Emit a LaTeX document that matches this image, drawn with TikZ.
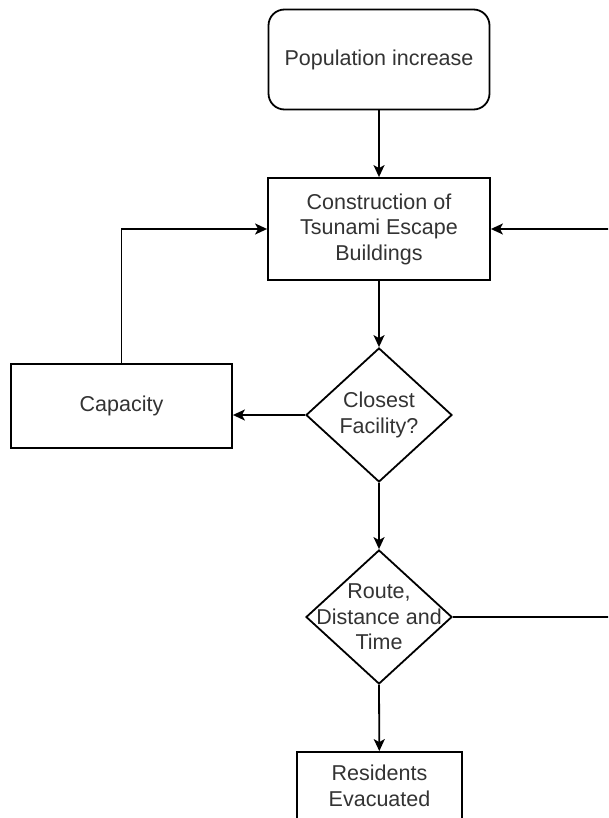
\documentclass[tikz,border=0pt]{standalone}
\usepackage{fontspec}
\setmainfont{Liberation Sans}
\usetikzlibrary{shapes.geometric,arrows.meta}
\definecolor{txt}{HTML}{333333}
\tikzset{
  x=1pt, y=-1pt,
  base/.style={draw=black, line width=1.8pt, font=\fontsize{21.5}{25.5}\selectfont, text=txt, align=center, inner sep=0pt},
  boxnode/.style={base, rectangle},
  roundnode/.style={base, rectangle, rounded corners=16pt},
  decnode/.style={base, diamond, minimum width=146pt, minimum height=134pt},
  lbl/.style={font=\fontsize{21.5}{25.5}\selectfont, text=txt, align=center, inner sep=0pt},
  arr/.style={draw=black, line width=1.8pt, -{Stealth[length=12pt,width=11pt,inset=3pt]}},
  ln/.style={draw=black, line width=1.8pt}
}
\begin{document}
\begin{tikzpicture}
\useasboundingbox (0,0) rectangle (608,818);
\clip (0,0) rectangle (608,818);
\fill[white] (0,0) rectangle (608,818);
\node[roundnode, minimum width=221pt, minimum height=100pt] (pop) at (379,59.5) {Population increase};
\node[boxnode, minimum width=222pt, minimum height=102pt] (cons) at (379,229) {Construction of\\Tsunami Escape\\Buildings};
\node[boxnode, minimum width=221pt, minimum height=84pt] (cap) at (121.5,406) {Capacity};
\node[decnode] (clos) at (379,415) {};
\node[lbl] (closT) at (clos.center) {Closest\\Facility?};
\node[decnode] (route) at (379,617) {};
\node[lbl] (routeT) at (route.center) {Route,\\Distance and\\Time};
\node[boxnode, minimum width=165pt, minimum height=68pt] (res) at (379.5,786) {Residents\\Evacuated};
\coordinate (rin) at (612,229);
\coordinate (rout) at (612,617);
\draw[arr] (pop) -- (cons);
\draw[arr] (cons) -- (clos.north);
\draw[arr] (clos.south) -- (route.north);
\draw[arr] (route.south) -- (res);
\draw[arr] (clos.west) -- (clos.west -| cap.east);
\draw[arr] (cap.north) |- (cons.west);
\draw[arr] (rin) -- (cons.east);
\draw[ln] (route.east) -- (rout);
\end{tikzpicture}
\end{document}
